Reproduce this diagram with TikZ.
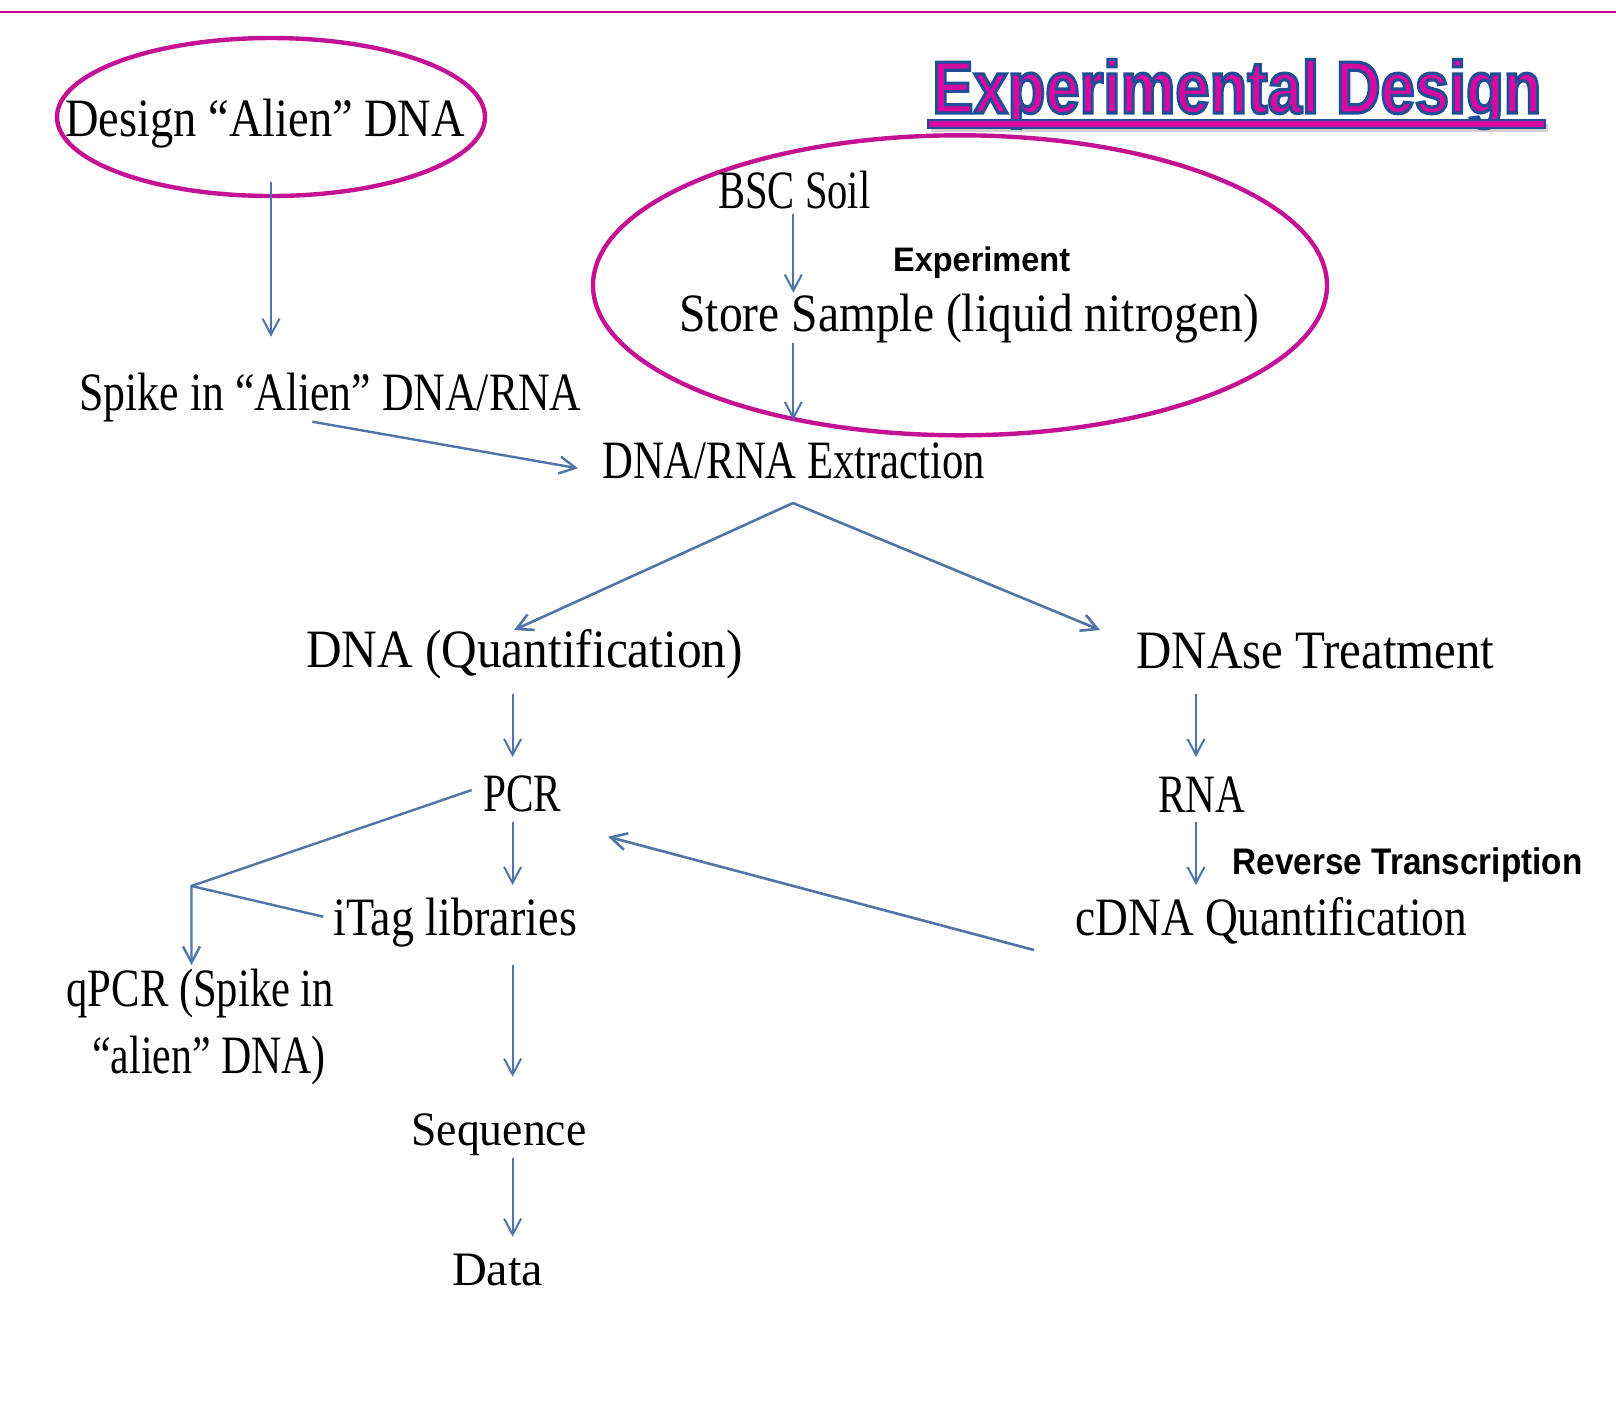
\documentclass[tikz,border=0pt]{standalone}
\usepackage{fontspec}
\setmainfont{Liberation Serif}
\newfontfamily\arial{Liberation Sans}
\usepackage{graphicx}
\usetikzlibrary{arrows.meta,shapes.geometric}
\definecolor{mag}{RGB}{196,18,148}
\definecolor{topmag}{RGB}{204,0,153}
\definecolor{tmag}{RGB}{214,10,160}
\definecolor{tblue}{RGB}{30,78,150}
\definecolor{flowblue}{RGB}{79,116,168}
\newlength\fitlen
\newcommand\fitw[2]{\settowidth\fitlen{#2}\pgfmathsetmacro\fitr{#1*0.5pt/\fitlen}\scalebox{\fitr}[1]{#2}}
\newcommand\outlined[1]{\special{pdf:literal direct 2 Tr 1.6 w 0.118 0.306 0.588 RG 0.839 0.039 0.627 rg}#1\special{pdf:literal direct 0 Tr}}
\tikzset{
  txt/.style={anchor=base west, inner sep=0pt, font=\fontsize{27pt}{30pt}\selectfont},
  tms/.style={anchor=base west, inner sep=0pt, font=\fontsize{24pt}{28pt}\selectfont},
  lbl/.style={anchor=base west, inner sep=0pt, font=\arial\bfseries\fontsize{17pt}{20pt}\selectfont},
  lblb/.style={anchor=base west, inner sep=0pt, font=\arial\bfseries\fontsize{18.5pt}{22pt}\selectfont},
  ttl/.style={anchor=base west, inner sep=0pt, font=\arial\bfseries\fontsize{37pt}{40pt}\selectfont},
  oval/.style={ellipse, draw=mag, line width=2.2pt, inner sep=0pt},
  flow/.style={draw=flowblue, line width=1pt, -{Straight Barb[length=8pt,width=8.5pt]}},
  flowline/.style={draw=flowblue, line width=1.2pt},
}
\begin{document}
\begin{tikzpicture}[x=0.5pt,y=-0.5pt]
\useasboundingbox (0,0) rectangle (1616,1405);
\fill[white] (0,0) rectangle (1616,1405);
% top rule
\coordinate (rl) at (0,12.4);
\coordinate (rr) at (1616,12.4);
\draw[topmag, line width=1pt] (rl) -- (rr);
% title
\fill[black!18] (931,124) rectangle (1548,132);
\node[ttl, text=tmag] (title) at (932,113) {\fitw{609}{\outlined{Experimental Design}}};
\draw[fill=tmag, draw=tblue, line width=0.7pt] (928,120) rectangle (1545,128);
% ellipses
\node[oval, minimum width=214pt, minimum height=79pt] (e1) at (271,117) {};
\node[oval, minimum width=367pt, minimum height=150pt] (e2) at (960,285.3) {};
% texts
\node[txt] (design) at (65,136.7) {\fitw{399.6}{Design “Alien” DNA}};
\node[txt] (spike) at (79,410) {\fitw{502}{Spike in “Alien” DNA/RNA}};
\node[txt] (bsc) at (718,208.3) {\fitw{152}{BSC Soil}};
\node[lbl] (exper) at (892.7,271.7) {\fitw{177}{Experiment}};
\node[txt] (store) at (679,331.7) {\fitw{579.6}{Store Sample (liquid nitrogen)}};
\node[txt] (extr) at (601.8,478.3) {\fitw{383}{DNA/RNA Extraction}};
\node[txt] (dnaq) at (305.6,667.7) {\fitw{437}{DNA (Quantification)}};
\node[txt] (dnase) at (1136,668) {\fitw{358}{DNAse Treatment}};
\node[txt] (pcr) at (483,811.7) {\fitw{78}{PCR}};
\node[txt] (rna) at (1157.6,812) {\fitw{87}{RNA}};
\node[lblb] (revt) at (1232.5,874) {\fitw{349.5}{Reverse Transcription}};
\node[txt] (itag) at (332.8,935) {\fitw{243.7}{iTag libraries}};
\node[txt] (cdna) at (1075,935) {\fitw{391.8}{cDNA Quantification}};
\node[txt] (qpcra) at (66.3,1006.7) {\fitw{267.4}{qPCR (Spike in}};
\node[txt] (qpcrb) at (92,1073) {\fitw{233.5}{“alien” DNA)}};
\node[tms] (seq) at (411,1145) {\fitw{175}{Sequence}};
\node[tms] (data) at (451.7,1285) {\fitw{91}{Data}};
% connector end points
\coordinate (a1s) at (271,182);   \coordinate (a1e) at (271,336.7);
\coordinate (a2s) at (312.4,421.7); \coordinate (a2e) at (578,468.3);
\coordinate (a3s) at (793.3,214); \coordinate (a3e) at (793.3,292.7);
\coordinate (a4s) at (793.3,342.7); \coordinate (a4e) at (793.3,420);
\coordinate (apex) at (793,503);
\coordinate (a5e) at (514,630);
\coordinate (a6e) at (1100,630);
\coordinate (a7s) at (512.6,694); \coordinate (a7e) at (512.6,757);
\coordinate (a8s) at (512.6,822); \coordinate (a8e) at (512.6,885);
\coordinate (a9s) at (512.6,965); \coordinate (a9e) at (512.6,1076.7);
\coordinate (a10s) at (512.6,1158); \coordinate (a10e) at (512.6,1236.7);
\coordinate (a11s) at (1196,694); \coordinate (a11e) at (1196,757);
\coordinate (a12s) at (1196,822); \coordinate (a12e) at (1196,885);
\coordinate (a13s) at (1034,950); \coordinate (a13e) at (608,836.7);
\coordinate (b0) at (471.7,790);
\coordinate (bk) at (191.5,886);
\coordinate (bq) at (191.5,965);
\coordinate (bi) at (323.4,916.7);
% connectors
\draw[flow] (a1s) -- (a1e);
\draw[flow, line width=1.2pt] (a2s) -- (a2e);
\draw[flow] (a3s) -- (a3e);
\draw[flow] (a4s) -- (a4e);
\draw[flow, line width=1.3pt] (apex) -- (a5e);
\draw[flow, line width=1.3pt] (apex) -- (a6e);
\draw[flow] (a7s) -- (a7e);
\draw[flow] (a8s) -- (a8e);
\draw[flow] (a9s) -- (a9e);
\draw[flow] (a10s) -- (a10e);
\draw[flow] (a11s) -- (a11e);
\draw[flow] (a12s) -- (a12e);
\draw[flow, line width=1.3pt] (a13s) -- (a13e);
\draw[flow, line width=1.2pt] (b0) -- (bk) -- (bq);
\draw[flowline] (bk) -- (bi);
\end{tikzpicture}
\end{document}
